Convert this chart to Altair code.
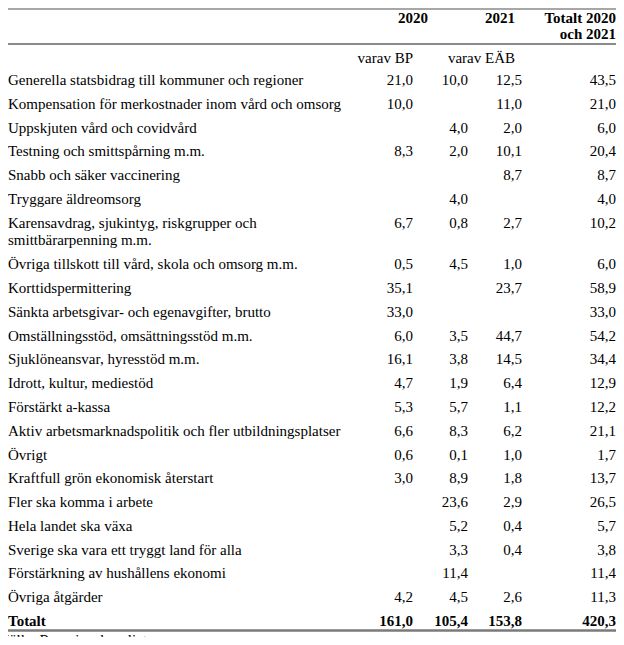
import altair as alt
import pandas as pd

# ---- data ----
labels = [
    "Generella statsbidrag till kommuner och regioner",
    "Kompensation för merkostnader inom vård och omsorg",
    "Uppskjuten vård och covidvård",
    "Testning och smittspårning m.m.",
    "Snabb och säker vaccinering",
    "Tryggare äldreomsorg",
    "Karensavdrag, sjukintyg, riskgrupper och\nsmittbärarpenning m.m.",
    "Övriga tillskott till vård, skola och omsorg m.m.",
    "Korttidspermittering",
    "Sänkta arbetsgivar- och egenavgifter, brutto",
    "Omställningsstöd, omsättningsstöd m.m.",
    "Sjuklöneansvar, hyresstöd m.m.",
    "Idrott, kultur, mediestöd",
    "Förstärkt a-kassa",
    "Aktiv arbetsmarknadspolitik och fler utbildningsplatser",
    "Övrigt",
    "Kraftfull grön ekonomisk återstart",
    "Fler ska komma i arbete",
    "Hela landet ska växa",
    "Sverige ska vara ett tryggt land för alla",
    "Förstärkning av hushållens ekonomi",
    "Övriga åtgärder",
]
col_2020 = [21.0, 10.0, None, 8.3, None, None, 6.7, 0.5, 35.1, 33.0, 6.0, 16.1,
            4.7, 5.3, 6.6, 0.6, 3.0, None, None, None, None, 4.2]
col_2 = [10.0, None, 4.0, 2.0, None, 4.0, 0.8, 4.5, None, None, 3.5, 3.8,
         1.9, 5.7, 8.3, 0.1, 8.9, 23.6, 5.2, 3.3, 11.4, 4.5]
col_2021 = [12.5, 11.0, 2.0, 10.1, 8.7, None, 2.7, 1.0, 23.7, None, 44.7, 14.5,
            6.4, 1.1, 6.2, 1.0, 1.8, 2.9, 0.4, 0.4, None, 2.6]
col_total = [43.5, 21.0, 6.0, 20.4, 8.7, 4.0, 10.2, 6.0, 58.9, 33.0, 54.2, 34.4,
             12.9, 12.2, 21.1, 1.7, 13.7, 26.5, 5.7, 3.8, 11.4, 11.3]
total_label = "Totalt"
total_values = [161.0, 105.4, 153.8, 420.3]
header_years = ["2020", "2021"]
header_total = "Totalt 2020\noch 2021"
sub_headers = ["varav BP", "varav EÄB"]
source = "Källa: Regeringskansliet"

FONT = "Liberation Serif"
FS = 15

def fmt(v):
    return "" if v is None else f"{v:.1f}".replace(".", ",")

# row positions (a two-line label takes extra room)
pos = []
p = 0.0
for lab in labels:
    pos.append(p)
    p += 1 + 0.75 * lab.count("\n")
total_pos = p

rows = pd.DataFrame({
    "label": labels,
    "pos": pos,
    "c1": [fmt(v) for v in col_2020],
    "c2": [fmt(v) for v in col_2],
    "c3": [fmt(v) for v in col_2021],
    "c4": [fmt(v) for v in col_total],
})
tot = pd.DataFrame({"label": [total_label], "pos": [total_pos],
                    "c1": [fmt(total_values[0])], "c2": [fmt(total_values[1])],
                    "c3": [fmt(total_values[2])], "c4": [fmt(total_values[3])]})

W, H = 608, 629
PITCH = 23.78
ROW0 = 77
ysc = alt.Scale(domain=[0, 1], range=[ROW0, ROW0 + PITCH], zero=False, nice=False)
Y = alt.Y("pos:Q", scale=ysc, axis=None)

def txt(df, field, x, align, bold=False, lh=17):
    return alt.Chart(df).mark_text(
        align=align, baseline="alphabetic", font=FONT, fontSize=FS,
        fontWeight="bold" if bold else "normal", color="black", lineBreak="\n",
        lineHeight=lh,
    ).encode(x=alt.value(x), y=Y, text=alt.Text(f"{field}:N"))

def at(chart_y):
    return (chart_y - ROW0) / PITCH

colx = [405, 460, 514, 608]
cols = ["c1", "c2", "c3", "c4"]
layers = [txt(rows, "label", 0, "left")]
for i, c in enumerate(cols):
    layers.append(txt(rows, c, colx[i], "right"))
layers.append(txt(tot, "label", 0, "left", bold=True))
for i, c in enumerate(cols):
    layers.append(txt(tot, c, colx[i], "right", bold=True))

hdr = pd.DataFrame({"t": header_years, "pos": [at(15), at(15)]})
layers.append(txt(hdr.iloc[[0]], "t", 420, "right", bold=True))
layers.append(txt(hdr.iloc[[1]], "t", 507, "right", bold=True))
tdf = pd.DataFrame({"t": [header_total], "pos": [at(15)]})
layers.append(txt(tdf, "t", 608, "right", bold=True, lh=16))
sdf = pd.DataFrame({"t": sub_headers, "pos": [at(55), at(55)]})
layers.append(txt(sdf.iloc[[0]], "t", 405, "right"))
layers.append(txt(sdf.iloc[[1]], "t", 507, "right"))
bottom_rule_y = ROW0 + PITCH * total_pos + 4.5
srcdf = pd.DataFrame({"t": [source], "pos": [at(bottom_rule_y + 15)]})
layers.append(txt(srcdf, "t", -9, "left"))

# table rules
def rule(y, w, color):
    return alt.Chart(pd.DataFrame({"a": [0]})).mark_rule(color=color, strokeWidth=w).encode(
        x=alt.value(0), x2=alt.value(W), y=alt.value(y))

layers.append(rule(1, 1.5, "#8a8a8a"))
layers.append(rule(36, 2, "#8a8a8a"))
layers.append(rule(bottom_rule_y, 2.5, "#7a7a7a"))

chart = alt.layer(*layers).properties(
    width=W, height=H, padding=0, autosize=alt.AutoSizeParams(type="none")
).configure_view(stroke=None)

chart.save("out.html", embed_options={"renderer": "svg", "actions": False})
